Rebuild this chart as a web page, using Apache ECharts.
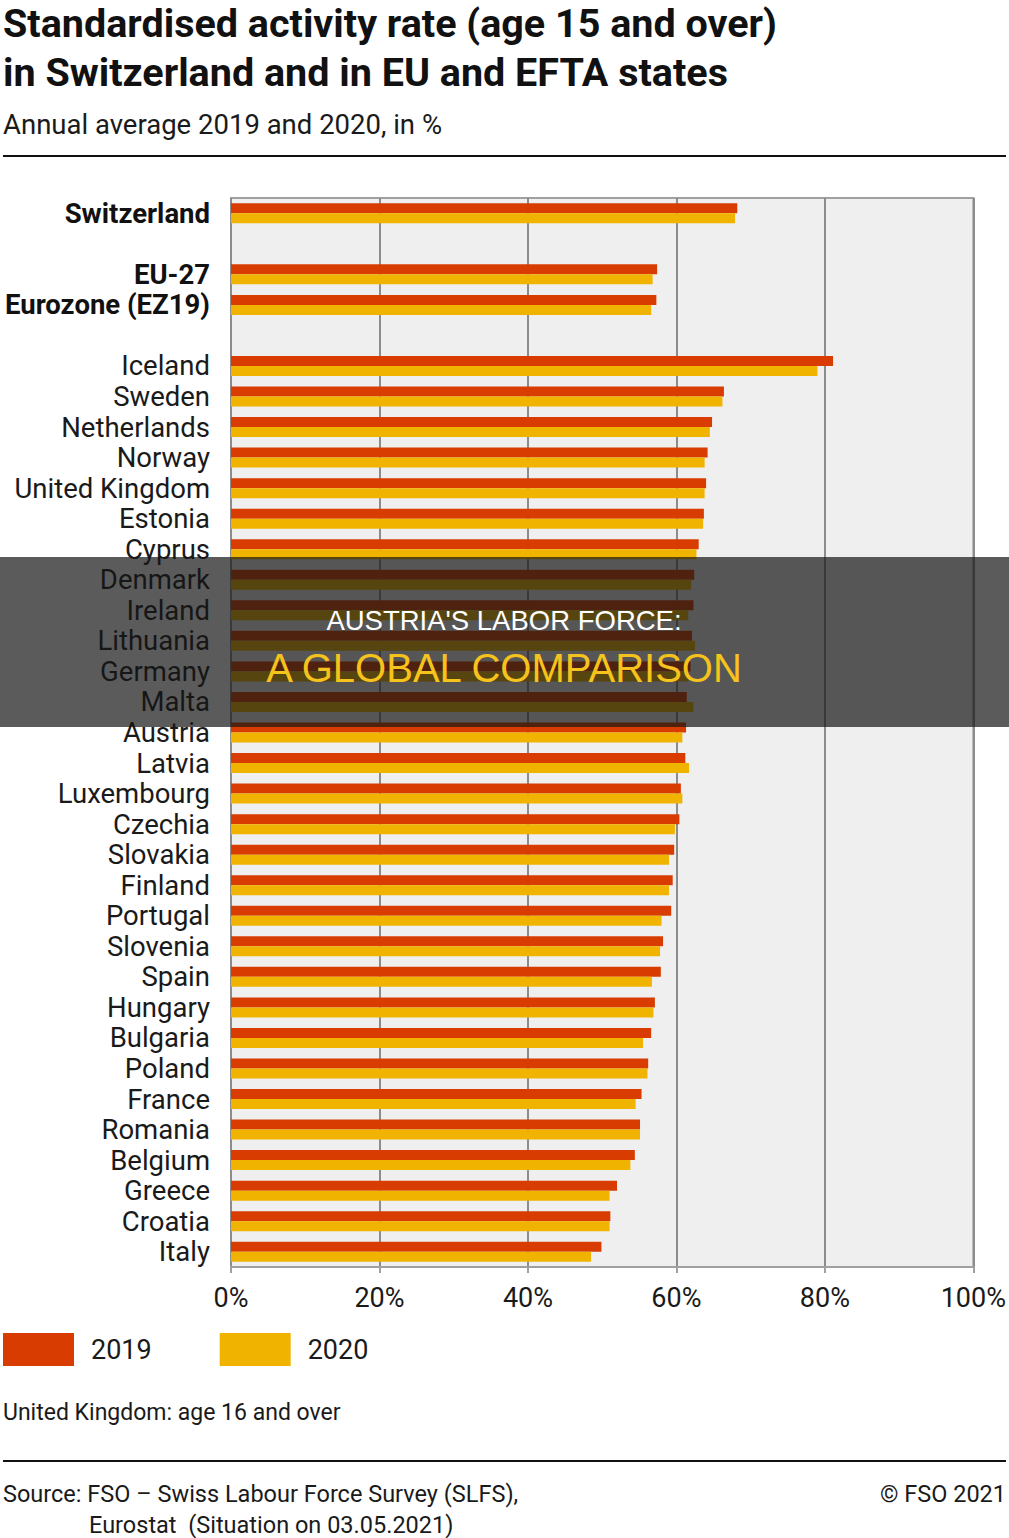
<!DOCTYPE html>
<html>
<head>
<meta charset="utf-8">
<script src="https://cdn.jsdelivr.net/npm/echarts@6/dist/echarts.min.js"></script>
<style>
  html, body { margin: 0; padding: 0; background: #fff; }
  #chart { width: 1009px; height: 1538px; }
</style>
</head>
<body>
<div id="chart"></div>
<script>
  // rows from top to bottom, '' / ' ' are the empty spacer rows
  const categories = ['Switzerland', '', 'EU-27', 'Eurozone (EZ19)', ' ',
    'Iceland', 'Sweden', 'Netherlands', 'Norway', 'United Kingdom', 'Estonia', 'Cyprus',
    'Denmark', 'Ireland', 'Lithuania', 'Germany', 'Malta', 'Austria', 'Latvia',
    'Luxembourg', 'Czechia', 'Slovakia', 'Finland', 'Portugal', 'Slovenia', 'Spain',
    'Hungary', 'Bulgaria', 'Poland', 'France', 'Romania', 'Belgium', 'Greece',
    'Croatia', 'Italy'];
  const boldRows = ['Switzerland', 'EU-27', 'Eurozone (EZ19)'];
  const values2019 = [68.2, '-', 57.4, 57.3, '-',
    81.1, 66.4, 64.8, 64.2, 64.0, 63.7, 63.0,
    62.4, 62.3, 62.1, 61.9, 61.4, 61.3, 61.2,
    60.6, 60.4, 59.7, 59.5, 59.3, 58.2, 57.9,
    57.1, 56.6, 56.2, 55.3, 55.1, 54.4, 52.0,
    51.1, 49.9];
  const values2020 = [67.9, '-', 56.8, 56.6, '-',
    79.0, 66.2, 64.5, 63.8, 63.8, 63.6, 62.7,
    62.0, 61.6, 62.5, 61.6, 62.3, 60.8, 61.7,
    60.8, 59.8, 59.0, 59.0, 58.0, 57.8, 56.7,
    56.9, 55.5, 56.1, 54.5, 55.1, 53.8, 51.0,
    51.0, 48.5];
  const xTicks = { min: 0, max: 100, step: 20 };

  const FONT = 'Roboto, "Liberation Sans", sans-serif';
  const INK = '#1a1a1a';

  function txt(x, y, text, size, opts) {
    opts = opts || {};
    return {
      type: 'text', x: x, y: y, z: opts.z || 10,
      style: {
        text: text, fontSize: size, fontFamily: opts.family || FONT,
        fontWeight: opts.weight || 'normal', fill: opts.fill || INK,
        textAlign: opts.align || 'left', textVerticalAlign: 'middle'
      }
    };
  }

  const chart = echarts.init(document.getElementById('chart'), null, { renderer: 'svg' });
  chart.setOption({
    animation: false,
    backgroundColor: '#fff',
    grid: {
      left: 231, right: 34, top: 198, height: 1069,
      show: true, backgroundColor: '#efefef', borderColor: '#a0a0a0', borderWidth: 2
    },
    xAxis: {
      type: 'value', min: xTicks.min, max: xTicks.max, interval: xTicks.step,
      axisLine: { show: true, lineStyle: { color: '#a0a0a0', width: 2 } },
      axisTick: { show: true, length: 6, lineStyle: { color: '#a0a0a0', width: 2 } },
      splitLine: { show: true, lineStyle: { color: '#8c8c8c', width: 2 } },
      axisLabel: {
        formatter: '{value}%', fontSize: 27, fontFamily: FONT, color: INK, margin: 17
      }
    },
    yAxis: {
      type: 'category', inverse: true, data: categories,
      axisLine: { show: false }, axisTick: { show: false }, splitLine: { show: false },
      axisLabel: {
        margin: 21, fontSize: 27.5, fontFamily: FONT, color: INK, interval: 0,
        formatter: function (v) {
          return boldRows.indexOf(v) >= 0 ? '{b|' + v + '}' : v;
        },
        rich: { b: { fontSize: 27.5, fontWeight: 'bold', fontFamily: FONT, color: '#111' } }
      }
    },
    legend: {
      left: -2, top: 1328, itemWidth: 71, itemHeight: 33, itemGap: 68,
      icon: 'rect', selectedMode: false,
      textStyle: { fontSize: 27, fontFamily: FONT, color: INK, padding: [0, 0, 0, 12] },
      data: ['2019', '2020']
    },
    series: [
      {
        name: '2019', type: 'bar', data: values2019, barWidth: 10, barGap: '0%',
        itemStyle: { color: '#d83c00' }
      },
      {
        name: '2020', type: 'bar', data: values2020, barWidth: 10, barGap: '0%',
        itemStyle: { color: '#f0b400' }
      }
    ],
    graphic: [
      txt(3, 23, 'Standardised activity rate (age 15 and over)', 39.5, { weight: 'bold', fill: '#111' }),
      txt(3, 72, 'in Switzerland and in EU and EFTA states', 39.5, { weight: 'bold', fill: '#111' }),
      txt(3, 124, 'Annual average 2019 and 2020, in %', 27.5),
      { type: 'rect', shape: { x: 3, y: 155, width: 1003, height: 2 }, style: { fill: '#111' } },
      txt(3, 1412, 'United Kingdom: age 16 and over', 23),
      { type: 'rect', shape: { x: 3, y: 1460, width: 1003, height: 2 }, style: { fill: '#111' } },
      txt(3, 1494, 'Source: FSO \u2013 Swiss Labour Force Survey (SLFS),', 23.5),
      txt(89, 1525, 'Eurostat  (Situation on 03.05.2021)', 23.5),
      txt(1006, 1494, '\u00a9 FSO 2021', 23.5, { align: 'right' }),
      // dark banner laid over the chart
      {
        type: 'rect', z: 100, shape: { x: 0, y: 557, width: 1009, height: 170 },
        style: { fill: 'rgba(22,22,22,0.70)' }
      },
      txt(504, 620, "AUSTRIA'S LABOR FORCE:", 27.5, { z: 101, fill: '#ffffff', family: '"Liberation Sans", Arial, sans-serif', align: 'center' }),
      txt(504, 668, 'A GLOBAL COMPARISON', 40, { z: 101, fill: '#f6c21c', family: '"Liberation Sans", Arial, sans-serif', align: 'center' })
    ]
  });
</script>
</body>
</html>
